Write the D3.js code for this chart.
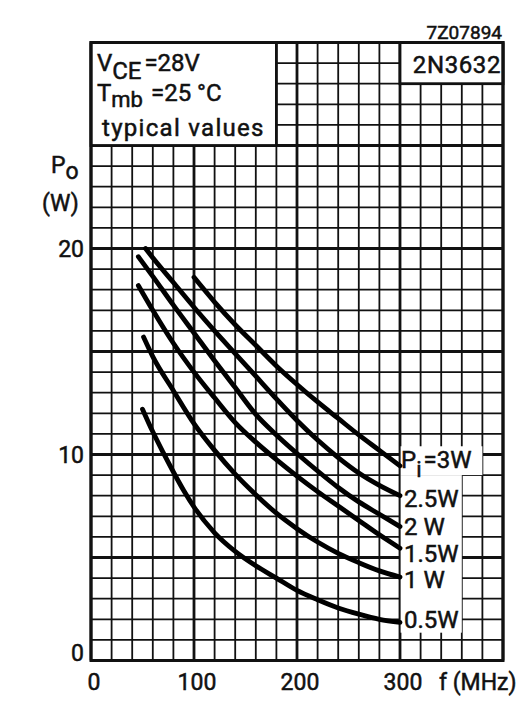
<!DOCTYPE html>
<html lang="en">
<head>
<meta charset="UTF-8"/>
<title>2N3632 output power vs frequency</title>
<script src="https://d3js.org/d3.v7.min.js"></script>
<style>
  body { margin: 0; background: #fff; }
  text { font-family: Roboto, "DejaVu Sans", sans-serif; fill: #111; stroke: #111; stroke-width: 0.5px; }
</style>
</head>
<body>
<div id="chart"></div>
<script>
// curves: f (MHz) and Po (W) for each Pi
var freq3W  = [100, 120, 140, 160, 180, 200, 220, 240, 260, 280, 300];
var po3W    = [18.6, 17.4, 16.3, 15.3, 14.3, 13.4, 12.55, 11.75, 10.95, 10.2, 9.45];
var freq25W = [53, 60, 80, 100, 120, 140, 160, 180, 200, 220, 240, 260, 280, 300];
var po25W   = [20.0, 19.55, 18.35, 17.15, 16.0, 14.9, 13.8, 12.7, 11.65, 10.7, 9.85, 9.1, 8.5, 8.0];
var freq2W  = [46, 60, 80, 100, 120, 140, 160, 180, 200, 220, 240, 260, 280, 300];
var po2W    = [19.6, 18.65, 17.25, 15.9, 14.55, 13.25, 11.95, 10.95, 10.05, 9.2, 8.4, 7.7, 7.1, 6.5];
var freq15W = [46, 60, 80, 100, 120, 140, 160, 180, 200, 220, 240, 260, 280, 300];
var po15W   = [18.2, 17.0, 15.4, 14.0, 12.75, 11.55, 10.6, 9.75, 8.95, 8.2, 7.5, 6.8, 6.1, 5.45];
var freq1W  = [51, 60, 80, 100, 120, 140, 160, 180, 200, 220, 240, 260, 280, 300];
var po1W    = [15.7, 14.75, 13.1, 11.5, 10.2, 9.05, 8.05, 7.15, 6.4, 5.75, 5.2, 4.75, 4.35, 4.05];
var freq05W = [50, 60, 70, 80, 90, 100, 120, 140, 160, 180, 200, 220, 240, 260, 280, 300];
var po05W   = [12.2, 11.1, 10.1, 9.15, 8.25, 7.45, 6.2, 5.3, 4.6, 4.0, 3.4, 2.95, 2.55, 2.25, 2.0, 1.85];

var curveLabels = ["=3W", "2.5W", "2 W", "1.5W", "1 W", "0.5W"];
var xTicks = [0, 100, 200, 300];
var yTicks = [0, 10, 20];

var w = 532, h = 715;

var x = d3.scaleLinear().domain([0, 400]).range([91, 503]);
var y = d3.scaleLinear().domain([0, 30]).range([660.5, 42.5]);

var svg = d3.select("#chart").append("svg")
    .attr("width", w).attr("height", h);

svg.append("rect").attr("width", w).attr("height", h).attr("fill", "#fff");

// grid: 20 MHz by 1 W, heavier every 100 MHz / 5 W
svg.append("g").selectAll("line")
    .data(d3.range(0, 401, 20))
    .enter().append("line")
    .attr("x1", function(d) { return x(d); })
    .attr("x2", function(d) { return x(d); })
    .attr("y1", y(0)).attr("y2", y(30))
    .attr("stroke", "#111")
    .attr("stroke-width", function(d) { return d % 100 == 0 ? 2.8 : 1.8; });

svg.append("g").selectAll("line")
    .data(d3.range(0, 31, 1))
    .enter().append("line")
    .attr("y1", function(d) { return y(d); })
    .attr("y2", function(d) { return y(d); })
    .attr("x1", x(0)).attr("x2", x(400))
    .attr("stroke", "#111")
    .attr("stroke-width", function(d) { return d % 5 == 0 ? 2.8 : 1.8; });

// white areas: condition box, type box, curve labels
function blank(f0, f1, p0, p1, border) {
  svg.append("rect")
    .attr("x", x(f0)).attr("y", y(p1))
    .attr("width", x(f1) - x(f0)).attr("height", y(p0) - y(p1))
    .attr("fill", "#fff")
    .attr("stroke", border ? "#111" : "none")
    .attr("stroke-width", 2.8);
}
blank(0, 180, 25, 30, true);
blank(300, 400, 28, 30, true);
blank(300.6, 360, 1.35, 9, false);
blank(300.6, 380, 9, 10.4, false);

// frame
svg.append("rect")
    .attr("x", x(0)).attr("y", y(30))
    .attr("width", x(400) - x(0)).attr("height", y(0) - y(30))
    .attr("fill", "none").attr("stroke", "#111").attr("stroke-width", 3);

// curves
var series = [
  [freq3W, po3W], [freq25W, po25W], [freq2W, po2W],
  [freq15W, po15W], [freq1W, po1W], [freq05W, po05W]
];
var line = d3.line()
    .x(function(d) { return x(d[0]); })
    .y(function(d) { return y(d[1]); })
    .curve(d3.curveMonotoneX);

svg.append("g").selectAll("path")
    .data(series)
    .enter().append("path")
    .attr("d", function(s) { return line(d3.zip(s[0], s[1])); })
    .attr("fill", "none")
    .attr("stroke", "#000")
    .attr("stroke-width", 4.8)
    .attr("stroke-linecap", "round");

// curve labels
var labelBase = [468, 507, 535, 562, 588, 628];
var lab = svg.append("g").attr("font-size", 24);
curveLabels.forEach(function(t, i) {
  var tx = lab.append("text").attr("x", 404).attr("y", labelBase[i]);
  if (i == 0) {
    tx.attr("x", 401);
    tx.append("tspan").text("P");
    tx.append("tspan").attr("dy", 9).attr("font-size", 22).text("i");
    tx.append("tspan").attr("dy", -9).attr("dx", 2).text(t);
  } else {
    tx.text(t);
  }
});

// axes labels
var ax = svg.append("g").attr("font-size", 23);
ax.selectAll(".xt").data(xTicks).enter().append("text")
    .attr("x", function(d) { return x(d) + 3; })
    .attr("y", 690)
    .attr("text-anchor", "middle")
    .text(function(d) { return d; });
ax.append("text").attr("x", 439).attr("y", 690).text("f (MHz)");

ax.selectAll(".yt").data(yTicks).enter().append("text")
    .attr("x", 84)
    .attr("y", function(d) { return d == 0 ? y(d) : y(d) + 8; })
    .attr("text-anchor", "end")
    .text(function(d) { return d; });

var po = ax.append("text").attr("x", 51).attr("y", 173);
po.append("tspan").text("P");
po.append("tspan").attr("dy", 6).text("o");
ax.append("text").attr("x", 42).attr("y", 211).text("(W)");

// boxed texts
var bx = svg.append("g").attr("font-size", 24);
var t1 = bx.append("text").attr("x", 97).attr("y", 71);
t1.append("tspan").text("V");
t1.append("tspan").attr("dy", 8).text("CE");
t1.append("tspan").attr("dy", -8).attr("dx", 3).text("=28V");

var t2 = bx.append("text").attr("x", 97).attr("y", 101);
t2.append("tspan").text("T");
t2.append("tspan").attr("dy", 6).attr("font-size", 22).text("mb");
t2.append("tspan").attr("dy", -6).attr("dx", 8).text("=25 \u00B0C");

bx.append("text").attr("x", 102).attr("y", 136)
    .attr("letter-spacing", 1.3).text("typical values");

bx.append("text").attr("x", 501).attr("y", 73)
    .attr("text-anchor", "end").attr("letter-spacing", 0.6).text("2N3632");

svg.append("text").attr("x", 502).attr("y", 39)
    .attr("text-anchor", "end").attr("font-size", 19)
    .text("7Z07894");
</script>
</body>
</html>
